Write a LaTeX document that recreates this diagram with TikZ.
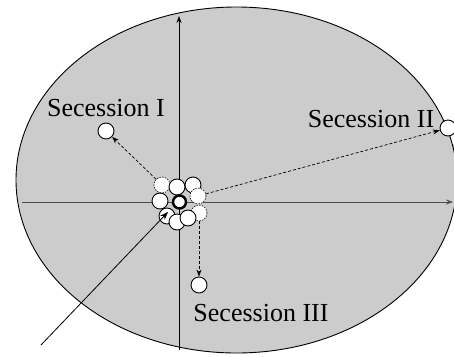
\documentclass[tikz,border=0pt]{standalone}
\usepackage{fontspec}
\setmainfont{Liberation Serif}
\usetikzlibrary{arrows.meta}
\begin{document}
\begin{tikzpicture}[x=1pt,y=-1pt,
  ball/.style={circle,draw=black,fill=white,line width=0.9pt,minimum size=16pt,inner sep=0pt},
  ghost/.style={circle,draw=black,fill=white,line width=0.6pt,dash pattern=on 1.5pt off 1.2pt,minimum size=16pt,inner sep=0pt},
  core/.style={circle,draw=black,fill=white,line width=2.4pt,minimum size=13pt,inner sep=0pt},
  axis/.style={line width=0.8pt,-{Stealth[length=7pt,width=5pt]}},
  mov/.style={line width=0.7pt,dashed,dash pattern=on 3pt off 2pt,-{Stealth[length=7pt,width=5pt]}},
  lbl/.style={font=\fontsize{26}{28}\selectfont,inner sep=0pt}]
\useasboundingbox (0,0) rectangle (454,356);
\fill[black!20] (236.5,180) ellipse [x radius=220.5, y radius=173];
\draw[line width=0.9pt] (236.5,180) ellipse [x radius=220.5, y radius=173];
% axes
\coordinate (xs) at (22,202);
\coordinate (xe) at (453,202);
\coordinate (ys) at (179,350);
\coordinate (ye) at (179,16);
\draw[axis,black!70] (xs) -- (xe);
\draw[axis] (ys) -- (ye);
% cluster
\node[ghost] (g1) at (162,185) {};
\node[ball] (b1) at (177,187) {};
\node[ball] (b2) at (193,185) {};
\node[ghost] (g2) at (198,196) {};
\node[ball] (b3) at (160,201) {};
\node[ghost] (g3) at (199,213) {};
\node[ball] (b4) at (167,216) {};
\node[ball] (b5) at (177,222) {};
\node[ball] (b6) at (188,218) {};
\node[core] (c) at (179.5,202) {};
% secession targets
\node[ball] (s1) at (106,131) {};
\node[ball] (s2) at (448,128) {};
\node[ball] (s3) at (199,285) {};
\node[ball] (s4) at (462,146) {};
% labels
\node[lbl] (l1) at (106,108) {Secession I};
\node[lbl] (l2) at (371,119) {Secession II};
\node[lbl] (l3) at (261,313) {Secession III};
% dashed moves
\draw[mov] (g1) -- (s1);
\draw[mov] (g2) -- (s2);
\draw[mov] (g3) -- (s3);
% incoming
\coordinate (in) at (41,345);
\draw[line width=0.8pt,-{Stealth[length=8pt,width=6pt]}] (in) -- (168,212);
\end{tikzpicture}
\end{document}
